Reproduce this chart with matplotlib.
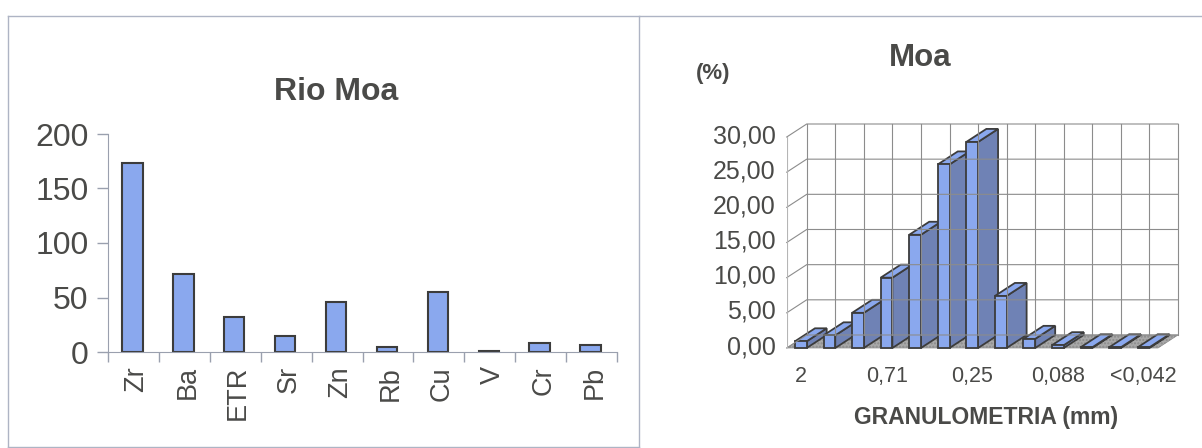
import matplotlib
matplotlib.use('Agg')
import matplotlib.pyplot as plt
from matplotlib.lines import Line2D
from matplotlib.transforms import ScaledTranslation

plt.rcParams['font.family'] = ['Liberation Sans', 'DejaVu Sans']

W, H = 1202, 448
txt = '#4a4a48'

# Rio Moa
elements = ['Zr', 'Ba', 'ETR', 'Sr', 'Zn', 'Rb', 'Cu', 'V', 'Cr', 'Pb']
contents = [173, 72, 32, 15, 46, 5, 55, 1, 8, 6]

# Moa
grain_labels = ['2', '', '', '0,71', '', '', '0,25', '', '', '0,088', '', '', '<0,042']
percent = [0.95, 1.8, 5.0, 10.0, 16.1, 26.1, 29.3, 7.4, 1.3, 0.4, 0.1, 0.1, 0.1]
y_ticks = [0, 5, 10, 15, 20, 25, 30]


def px_axes(fig, left, top, right, bottom):
    return fig.add_axes([left / W, 1 - bottom / H, (right - left) / W, (bottom - top) / H])


fig = plt.figure(figsize=(W / 100, H / 100), dpi=100, facecolor='white')

# panel frames from the scan
for xs, ys in [([8, 8], [16, 447]), ([8, 639], [16, 16]), ([639, 639], [16, 447]),
               ([8, 639], [447, 447]), ([640, 1202], [16, 16])]:
    fig.add_artist(Line2D([x / W for x in xs], [1 - y / H for y in ys], color='#aeb4c4', lw=1))

# left chart
ax = px_axes(fig, 108, 134, 617, 352)
ax.bar(range(len(elements)), contents, width=0.40, color='#8aa8ee', edgecolor='#3c3c3c', lw=1.5)
ax.set_xlim(-0.48, 9.52)
ax.set_ylim(0, 200)
ax.set_yticks([0, 50, 100, 150, 200])
ax.set_xticks([i - 0.48 for i in range(11)], minor=True)
ax.set_xticks(range(10))
ax.set_xticklabels(elements, rotation=90, fontsize=19.5, color=txt)
ax.tick_params(axis='x', which='major', length=0, pad=10)
ax.tick_params(axis='x', which='minor', length=7, color='#9aa0ae', width=1)
ax.tick_params(axis='y', length=8, color='#9aa0ae', width=1, labelsize=23, labelcolor=txt, pad=6)
for lab in ax.get_xticklabels():
    lab.set_transform(lab.get_transform() + ScaledTranslation(4 / 100, 0, fig.dpi_scale_trans))
for s in ['top', 'right']:
    ax.spines[s].set_visible(False)
for s in ['left', 'bottom']:
    ax.spines[s].set_color('#9aa0ae')
fig.text(336.5 / W, 1 - 92 / H, 'Rio Moa', fontsize=23, fontweight='bold', color=txt,
         ha='center', va='center')

# right chart, pseudo 3d: front plane in data units, depth added on top
n = len(percent)
dx, dy = 0.70, 1.85
ax2 = px_axes(fig, 786.7, 124, 1178, 348)
ax2.set_xlim(0, n + dx)
ax2.set_ylim(0, 30 + dy)
for s in ax2.spines.values():
    s.set_visible(False)
ax2.patch.set_visible(False)
ax2.set_yticks(y_ticks)
ax2.set_yticklabels(['%d,00' % v for v in y_ticks], fontsize=18, color=txt)
ax2.set_xticks([i + 0.5 for i in range(n)])
ax2.set_xticklabels(grain_labels, fontsize=15.5, color=txt)
ax2.tick_params(axis='y', length=0, pad=8)
ax2.tick_params(axis='x', length=0, pad=13)
# the scanned labels sit a little above their gridlines
for lab in ax2.get_yticklabels():
    lab.set_transform(lab.get_transform() + ScaledTranslation(0, 2.5 / 72, fig.dpi_scale_trans))

grid = '#8c8c8c'
# floor
ax2.fill([0, n, n + dx, dx], [0, 0, dy, dy], facecolor='#a9a9a9', edgecolor='#8a8a8a',
         hatch='.....', lw=0.5, clip_on=False)
# back wall and left wall
for v in y_ticks:
    ax2.plot([0, dx, n + dx], [v, v + dy, v + dy], color=grid, lw=0.8, clip_on=False)
for i in range(n + 1):
    ax2.plot([i + dx, i + dx], [dy, 30 + dy], color=grid, lw=0.8, clip_on=False)
ax2.plot([0, 0], [0, 30], color='#b5b5b5', lw=0.8)

bar_off, bar_w = 0.29, 0.41
for i, v in enumerate(percent):
    x0 = i + bar_off
    x1 = x0 + bar_w
    ax2.fill([x1, x1 + dx, x1 + dx, x1], [0, dy, v + dy, v], facecolor='#6f82b5',
             edgecolor='#3c3c3c', lw=1.3, clip_on=False)
    ax2.fill([x0, x1, x1 + dx, x0 + dx], [v, v, v + dy, v + dy], facecolor='#8aa8ee',
             edgecolor='#3c3c3c', lw=1.3, clip_on=False)
    ax2.fill([x0, x1, x1, x0], [0, 0, v, v], facecolor='#8aa8ee',
             edgecolor='#3c3c3c', lw=1.3, clip_on=False)

fig.text(920 / W, 1 - 58 / H, 'Moa', fontsize=22.5, fontweight='bold', color=txt, ha='center', va='center')
fig.text(713 / W, 1 - 73 / H, '(%)', fontsize=16, fontweight='bold', color=txt, ha='center', va='center')
fig.text(986 / W, 1 - 417 / H, 'GRANULOMETRIA (mm)', fontsize=16.5, fontweight='bold', color=txt,
         ha='center', va='center')

fig.savefig('out.png', dpi=100)
